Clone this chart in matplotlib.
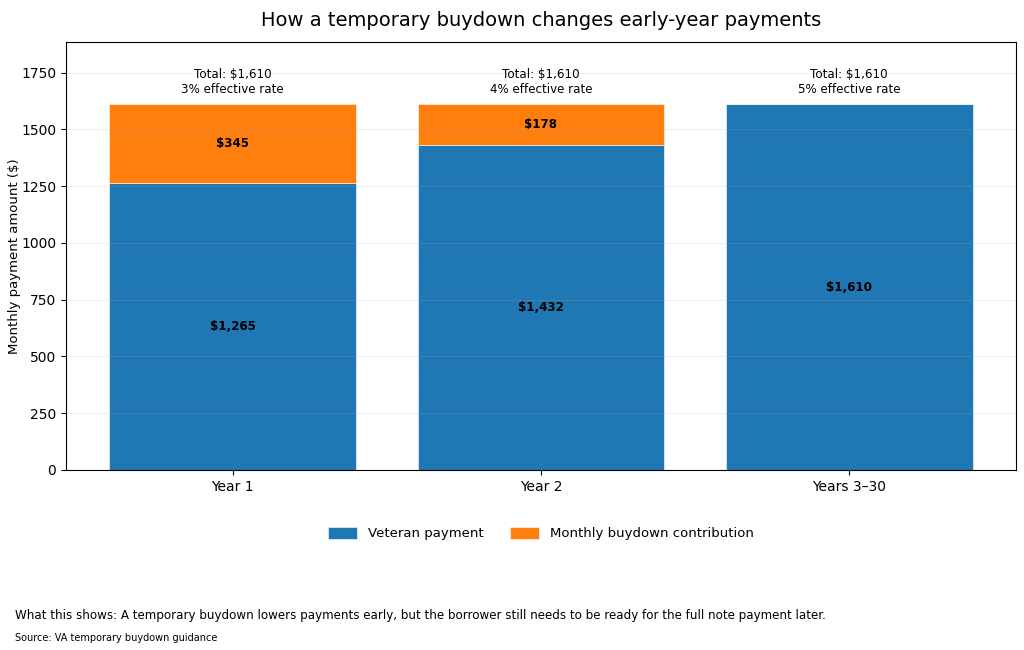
import matplotlib.pyplot as plt
import numpy as np

# Chart data
periods = ["Year 1", "Year 2", "Years 3\u201330"]
veteran_payment = [1265, 1432, 1610]
buydown_contribution = [345, 178, 0]
effective_rates = ["3%", "4%", "5%"]

totals = [v + b for v, b in zip(veteran_payment, buydown_contribution)]
x = np.arange(len(periods))

fig = plt.figure(figsize=(10.24, 6.5), dpi=100)
ax = fig.add_axes([0.0645, 0.277, 0.9275, 0.658])

ax.bar(x, veteran_payment, width=0.8, color="#1f77b4", edgecolor="white",
       linewidth=0.4, label="Veteran payment")
ax.bar(x, buydown_contribution, width=0.8, bottom=veteran_payment, color="#ff7f0e",
       edgecolor="white", linewidth=0.4, label="Monthly buydown contribution")

# segment labels
for i in range(len(periods)):
    ax.text(x[i], veteran_payment[i] / 2, f"${veteran_payment[i]:,}", ha="center",
            va="center", fontsize=8.6, fontweight="bold")
    if buydown_contribution[i] > 0:
        ax.text(x[i], veteran_payment[i] + buydown_contribution[i] / 2,
                f"${buydown_contribution[i]:,}", ha="center", va="center",
                fontsize=8.6, fontweight="bold")
    ax.annotate(f"Total: ${totals[i]:,}\n{effective_rates[i]} effective rate",
                xy=(x[i], totals[i]), xytext=(0, 6), textcoords="offset points",
                ha="center", va="bottom", fontsize=8.6)

ax.set_xticks(x)
ax.set_xticklabels(periods, fontsize=10)
ax.set_ylim(0, max(totals) * 1.17)
ax.set_ylabel("Monthly payment amount ($)", fontsize=9.5, labelpad=0)
ax.grid(axis="y", alpha=0.2)
ax.set_title("How a temporary buydown changes early-year payments", fontsize=14, pad=12)

ax.legend(loc="upper center", bbox_to_anchor=(0.5, -0.105), ncol=2, frameon=False,
          fontsize=9.5, columnspacing=2, handleheight=1.0, handlelength=2.2)

fig.text(0.015, 0.048, "What this shows: A temporary buydown lowers payments early, but the "
         "borrower still needs to be ready for the full note payment later.", fontsize=8.6)
fig.text(0.015, 0.014, "Source: VA temporary buydown guidance", fontsize=7)

fig.savefig("out.png", dpi=100)
